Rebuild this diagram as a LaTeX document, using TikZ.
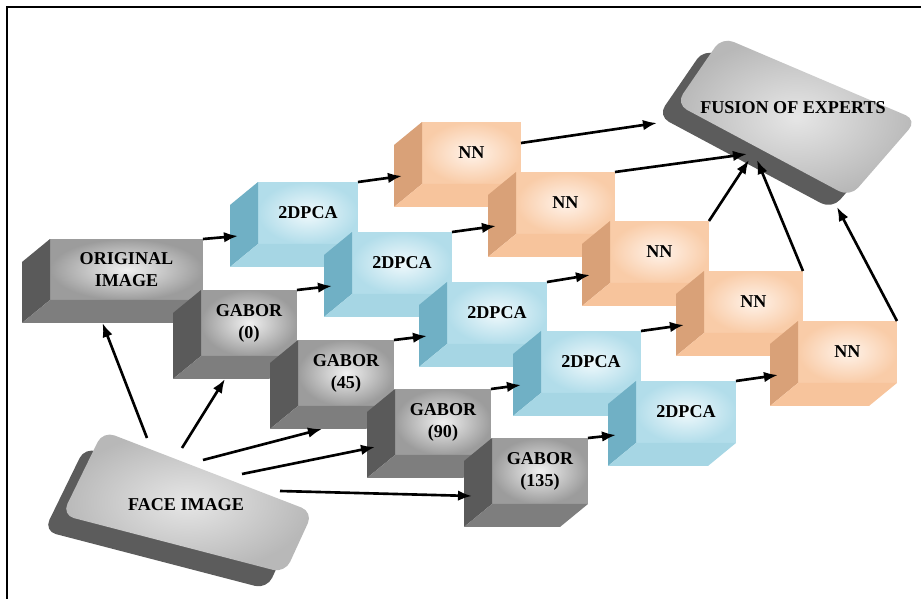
\documentclass[tikz,border=0pt]{standalone}
\usepackage{fontspec}
\setmainfont{Liberation Serif}
\usetikzlibrary{calc,arrows.meta}

\definecolor{metalin}{HTML}{F0F0F0}
\definecolor{metalout}{HTML}{9C9C9C}
\definecolor{metalside}{HTML}{5A5A5A}
\definecolor{metalbase}{HTML}{7E7E7E}
\definecolor{icein}{HTML}{F0F9FC}
\definecolor{iceout}{HTML}{B2DDEA}
\definecolor{iceside}{HTML}{70B0C5}
\definecolor{icebase}{HTML}{A6D6E4}
\definecolor{peachin}{HTML}{FFF3EA}
\definecolor{peachout}{HTML}{F9CCA8}
\definecolor{peachside}{HTML}{D9A178}
\definecolor{peachbase}{HTML}{F7C49C}
\definecolor{slabin}{HTML}{E6E6E6}
\definecolor{slabout}{HTML}{B8B8B8}
\definecolor{slabshadow}{HTML}{5C5C5C}

% cube: name, top left of front, width, height, colour set, text
\newcommand{\cube}[6]{%
	\node[box, #5, minimum width=#3, minimum height=#4, anchor=north west] (#1) at (#2) {#6};
	\fill[#5side] (#1.north west) -- ++(-28,23) -- ($(#1.south west)+(-28,23)$) -- (#1.south west) -- cycle;
	\fill[#5base] (#1.south west) -- (#1.south east) -- ++(-28,23) -- ($(#1.south west)+(-28,23)$) -- cycle;
	\coordinate (#1-in) at ($(#1.south west)+(-20,-8)$);
	\coordinate (#1-low) at ($(#1.south)+(-24,23)$);
}

\begin{document}
\begin{tikzpicture}[x=0.02cm, y=-0.02cm,
		box/.style={inner sep=0pt, outer sep=0pt, align=center, font=\bfseries\fontsize{10.3}{12.5}\selectfont},
		metal/.style={inner color=metalin, outer color=metalout},
		ice/.style={inner color=icein, outer color=iceout},
		peach/.style={inner color=peachin, outer color=peachout},
		conn/.style={-{Latex[length=8pt,width=6pt]}, line width=1.5pt}]
		\useasboundingbox (0,0) rectangle (921,599);
		\draw[line width=1.1pt] (7,599) -- (7,7) -- (921,7);
		
		% slabs
		\fill[slabshadow, rounded corners=7pt] (704,49) -- (899,132) -- (832,209) -- (658,116) -- cycle;
		\shade[rounded corners=7pt, inner color=slabin, outer color=slabout] (722,37) -- (917,120) -- (850,197) -- (676,104) -- cycle;
		\node[box] (fusion) at (793,108) {FUSION OF EXPERTS};
		\fill[slabshadow, rounded corners=7pt] (85,447) -- (295,528) -- (267,589) -- (44,531) -- cycle;
		\shade[rounded corners=7pt, inner color=slabin, outer color=slabout] (103,431) -- (313,512) -- (285,573) -- (62,515) -- cycle;
		\node[box] (face) at (186,505) {FACE IMAGE};
		
		% cubes
		\cube{orig}{50,239}{3.06cm}{1.22cm}{metal}{ORIGINAL\\IMAGE}
		\cube{gab0}{201,290}{1.92cm}{1.32cm}{metal}{GABOR\\(0)}
		\cube{gab45}{298,340}{1.92cm}{1.32cm}{metal}{GABOR\\(45)}
		\cube{gab90}{395,389}{1.92cm}{1.32cm}{metal}{GABOR\\(90)}
		\cube{gab135}{492,438}{1.92cm}{1.32cm}{metal}{GABOR\\(135)}
		\cube{pca1}{258,182}{2cm}{1.24cm}{ice}{2DPCA}
		\cube{pca2}{352,232}{2cm}{1.24cm}{ice}{2DPCA}
		\cube{pca3}{447,282}{2cm}{1.24cm}{ice}{2DPCA}
		\cube{pca4}{541,331}{2cm}{1.24cm}{ice}{2DPCA}
		\cube{pca5}{636,381}{2cm}{1.24cm}{ice}{2DPCA}
		\cube{nn1}{422,122}{1.98cm}{1.24cm}{peach}{NN}
		\cube{nn2}{516,172}{1.98cm}{1.24cm}{peach}{NN}
		\cube{nn3}{610,221}{1.98cm}{1.24cm}{peach}{NN}
		\cube{nn4}{704,271}{1.98cm}{1.24cm}{peach}{NN}
		\cube{nn5}{798,321}{1.98cm}{1.24cm}{peach}{NN}
		
		% ports on the slabs
		\coordinate (face-1) at (147,438);
		\coordinate (face-2) at (182,448);
		\coordinate (face-3) at (203,460);
		\coordinate (face-4) at (242,474);
		\coordinate (face-5) at (280,491);
		\coordinate (fus-1) at (657,123);
		\coordinate (fus-2) at (747,154);
		\coordinate (fus-3) at (749,160);
		\coordinate (fus-4) at (757,160);
		\coordinate (fus-5) at (837,207);
		
		\draw[conn] (face-1) -- (orig-low);
		\draw[conn] (face-2) -- (gab0-low);
		\draw[conn] (face-3) -- (gab45-low);
		\draw[conn] (face-4) -- (gab90-in);
		\draw[conn] (face-5) -- (gab135-in);
		\draw[conn] (orig.north east) -- (pca1-in);
		\draw[conn] (gab0.north east) -- (pca2-in);
		\draw[conn] (gab45.north east) -- (pca3-in);
		\draw[conn] (gab90.north east) -- (pca4-in);
		\draw[conn] (gab135.north east) -- (pca5-in);
		\draw[conn] (pca1.north east) -- (nn1-in);
		\draw[conn] (pca2.north east) -- (nn2-in);
		\draw[conn] (pca3.north east) -- (nn3-in);
		\draw[conn] (pca4.north east) -- (nn4-in);
		\draw[conn] (pca5.north east) -- (nn5-in);
		\draw[conn] ($(nn1.north east)+(0,21)$) -- (fus-1);
		\draw[conn] (nn2.north east) -- (fus-2);
		\draw[conn] (nn3.north east) -- (fus-3);
		\draw[conn] (nn4.north east) -- (fus-4);
		\draw[conn] (nn5.north east) -- (fus-5);
\end{tikzpicture}
\end{document}
